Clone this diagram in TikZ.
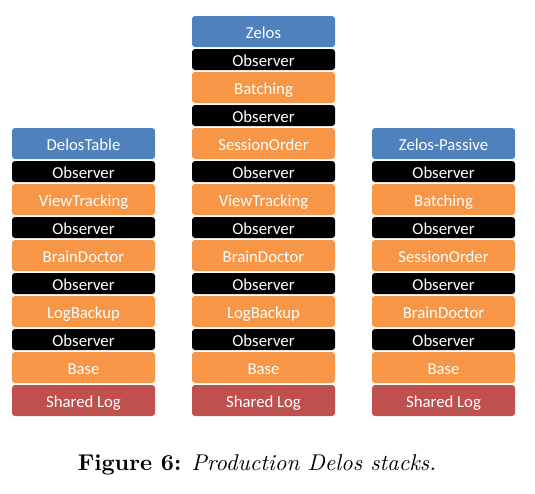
\documentclass[tikz,border=0pt]{standalone}
\usepackage{fontspec}
\newfontfamily\boxfont{Carlito}
\usetikzlibrary{positioning}
\definecolor{appblue}{HTML}{4F81BD}
\definecolor{engorange}{HTML}{F79646}
\definecolor{logred}{HTML}{C0504D}
\tikzset{
  layer/.style={rounded corners=1.4pt, minimum width=65.8pt, inner sep=0pt,
    outer sep=0pt, text height=6.6pt, text depth=0.5pt,
    text=white, font=\boxfont\fontsize{7.7}{8}\selectfont},
  big/.style={layer, minimum height=14.26pt},
  app/.style={big, fill=appblue},
  eng/.style={big, fill=engorange},
  slog/.style={big, fill=logred},
  obs/.style={layer, minimum height=9.66pt, fill=black},
}
\begin{document}
\begin{tikzpicture}[x=0.46pt, y=-0.46pt, node distance=0.92pt]
	\useasboundingbox (0,0) rectangle (535,493);
	% DelosTable stack
	\node[app, anchor=north west] (table) at (12,128) {DelosTable};
	\node[obs, below=of table] (table_obs1) {Observer};
	\node[eng, below=of table_obs1] (table_view) {ViewTracking};
	\node[obs, below=of table_view] (table_obs2) {Observer};
	\node[eng, below=of table_obs2] (table_brain) {BrainDoctor};
	\node[obs, below=of table_brain] (table_obs3) {Observer};
	\node[eng, below=of table_obs3] (table_backup) {LogBackup};
	\node[obs, below=of table_backup] (table_obs4) {Observer};
	\node[eng, below=of table_obs4] (table_base) {Base};
	\node[slog, below=of table_base] (table_log) {Shared Log};
	% Zelos stack
	\node[app, anchor=north west] (zelos) at (192,16) {Zelos};
	\node[obs, below=of zelos] (zelos_obs1) {Observer};
	\node[eng, below=of zelos_obs1] (zelos_batch) {Batching};
	\node[obs, below=of zelos_batch] (zelos_obs2) {Observer};
	\node[eng, below=of zelos_obs2] (zelos_order) {SessionOrder};
	\node[obs, below=of zelos_order] (zelos_obs3) {Observer};
	\node[eng, below=of zelos_obs3] (zelos_view) {ViewTracking};
	\node[obs, below=of zelos_view] (zelos_obs4) {Observer};
	\node[eng, below=of zelos_obs4] (zelos_brain) {BrainDoctor};
	\node[obs, below=of zelos_brain] (zelos_obs5) {Observer};
	\node[eng, below=of zelos_obs5] (zelos_backup) {LogBackup};
	\node[obs, below=of zelos_backup] (zelos_obs6) {Observer};
	\node[eng, below=of zelos_obs6] (zelos_base) {Base};
	\node[slog, below=of zelos_base] (zelos_log) {Shared Log};
	% Zelos-Passive stack
	\node[app, anchor=north west] (passive) at (372,128) {Zelos-Passive};
	\node[obs, below=of passive] (passive_obs1) {Observer};
	\node[eng, below=of passive_obs1] (passive_batch) {Batching};
	\node[obs, below=of passive_batch] (passive_obs2) {Observer};
	\node[eng, below=of passive_obs2] (passive_order) {SessionOrder};
	\node[obs, below=of passive_order] (passive_obs3) {Observer};
	\node[eng, below=of passive_obs3] (passive_brain) {BrainDoctor};
	\node[obs, below=of passive_brain] (passive_obs4) {Observer};
	\node[eng, below=of passive_obs4] (passive_base) {Base};
	\node[slog, below=of passive_base] (passive_log) {Shared Log};
	% caption
	\node[font=\fontsize{10.5}{12}\selectfont] (caption) at (257,465)
	  {\textbf{Figure 6:} \textit{Production Delos stacks.}};
\end{tikzpicture}
\end{document}
